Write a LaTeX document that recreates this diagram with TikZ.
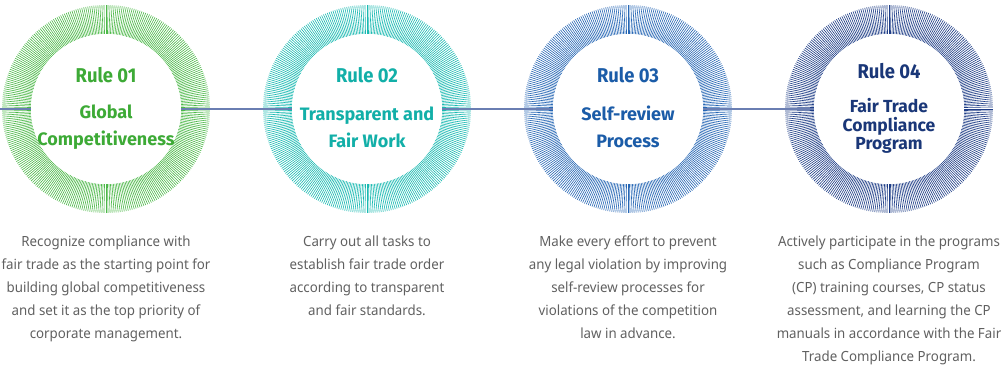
\documentclass[tikz,border=0pt]{standalone}
\usepackage{fontspec}
\usetikzlibrary{calc}
\setmainfont{Noto Sans}[FakeStretch=0.95]
\newfontfamily\headfont{Fira Sans}[FakeStretch=0.92]
\newfontfamily\subfont{Fira Sans}
\begin{document}
\begin{tikzpicture}[x=1pt,y=-1pt,
  rulehead/.style={font=\headfont\bfseries\fontsize{20}{22}\selectfont},
  rulesub/.style={font=\subfont\bfseries\fontsize{18}{27}\selectfont, align=center},
  disc/.style={circle, fill=white, minimum size=150pt, inner sep=0pt},
  desc/.style={font=\fontsize{14}{23}\selectfont, text=gray55, align=center, anchor=north, inner sep=0pt},
  link/.style={draw=linkblue, line width=1.6pt}]
\definecolor{cgreen}{HTML}{4CB848}
\definecolor{cteal}{HTML}{19B9B1}
\definecolor{cblue}{HTML}{2566B4}
\definecolor{cnavy}{HTML}{1D3C86}
\definecolor{tgreen}{HTML}{3DAA36}
\definecolor{tteal}{HTML}{12AFA8}
\definecolor{tblue}{HTML}{1B5CA8}
\definecolor{tnavy}{HTML}{1A3778}
\definecolor{gray55}{HTML}{606060}
\definecolor{linkblue}{HTML}{6A7EB2}
\useasboundingbox (0,0) rectangle (1002,371);

% ring centres
\coordinate (c1) at (106,109);
\coordinate (c2) at (367,109);
\coordinate (c3) at (628,109);
\coordinate (c4) at (889,109);
\coordinate (start) at (0,109);

% radial hatching of each ring (320 spokes)
\foreach \c/\col in {c1/cgreen,c2/cteal,c3/cblue,c4/cnavy}{
  \foreach \i in {0,1,...,319}{
    \pgfmathsetmacro{\a}{\i*1.125}
    \draw[\col, line width=0.6pt] ($(\c)+(\a:75)$) -- ($(\c)+(\a:104)$);
  }
}

% connector through the rings
\draw[link] (start) -- (c4);

% white centres
\node[disc] (r1) at (c1) {};
\node[disc] (r2) at (c2) {};
\node[disc] (r3) at (c3) {};
\node[disc] (r4) at (c4) {};

% headings
\node[rulehead, text=tgreen] (h1) at (106,75) {Rule 01};
\node[rulehead, text=tteal] (h2) at (367,75) {Rule 02};
\node[rulehead, text=tblue] (h3) at (628,75) {Rule 03};
\node[rulehead, text=tnavy] (h4) at (889,71) {Rule 04};

\node[rulesub, text=tgreen] (s1) at (106,127) {Global\\Competitiveness};
\node[rulesub, text=tteal] (s2) at (367,127) {Transparent and\\Fair Work};
\node[rulesub, text=tblue] (s3) at (628,127) {Self-review\\Process};
\node[rulesub, text=tnavy, font=\subfont\bfseries\fontsize{17.5}{18.5}\selectfont] (s4) at (889,126) {Fair Trade\\Compliance\\Program};

% descriptions
\node[desc] (d1) at (106,236) {Recognize compliance with\\fair trade as the starting point for\\building global competitiveness\\and set it as the top priority of\\corporate management.};
\node[desc] (d2) at (367,236) {Carry out all tasks to\\establish fair trade order\\according to transparent\\and fair standards.};
\node[desc] (d3) at (628,236) {Make every effort to prevent\\any legal violation by improving\\self-review processes for\\violations of the competition\\law in advance.};
\node[desc] (d4) at (889,236) {Actively participate in the programs\\such as Compliance Program\\(CP) training courses, CP status\\assessment, and learning the CP\\manuals in accordance with the Fair\\Trade Compliance Program.};
\end{tikzpicture}
\end{document}
